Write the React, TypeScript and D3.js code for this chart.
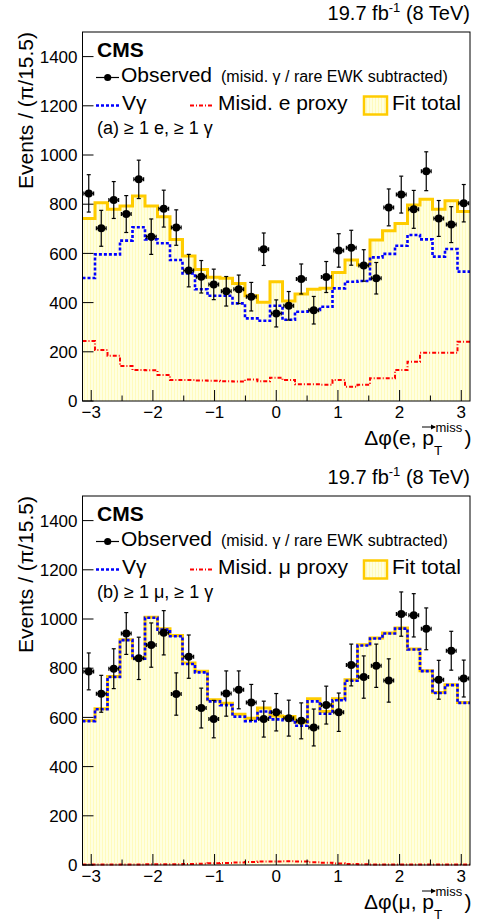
import React from 'react';
import * as d3 from 'd3';

const NBINS = 31;
const binWidth = Math.PI / 15.5;
const binEdges = d3.range(NBINS + 1).map((i) => -Math.PI + i * binWidth);
const binCenters = d3.range(NBINS).map((i) => -Math.PI + (i + 0.5) * binWidth);

const xTickValues = [-3, -2, -1, 0, 1, 2, 3];
const xMinorTickValues = [-2.5, -1.5, -0.5, 0.5, 1.5, 2.5];
const yTickValues = [0, 200, 400, 600, 800, 1000, 1200, 1400];

// (a) electron channel
const eObserved = [844, 702, 817, 760, 901, 668, 782, 705, 530, 505, 474, 446, 454, 424, 617, 356, 387, 496, 369, 504, 612, 623, 551, 499, 787, 839, 779, 934, 742, 717, 804];
const eObsErr = [76, 73, 75, 75, 78, 72, 75, 72, 66, 66, 62, 60, 58, 58, 66, 55, 58, 61, 56, 63, 68, 71, 64, 64, 75, 75, 77, 79, 73, 73, 76];
const eFitTotal = [742, 806, 779, 793, 833, 793, 749, 657, 589, 535, 503, 499, 478, 428, 401, 485, 406, 435, 454, 458, 522, 573, 553, 654, 692, 722, 797, 820, 779, 814, 770];
const eVgamma = [500, 596, 596, 652, 706, 657, 641, 573, 519, 454, 428, 428, 397, 336, 326, 387, 330, 363, 370, 383, 458, 485, 488, 584, 598, 631, 675, 657, 587, 618, 526];
const eMisid = [244, 207, 184, 142, 126, 125, 106, 85, 85, 83, 82, 80, 79, 87, 80, 95, 85, 68, 68, 66, 85, 58, 66, 92, 92, 126, 160, 196, 196, 196, 241];

// (b) muon channel
const mObserved = [787, 696, 798, 941, 840, 894, 944, 695, 847, 638, 593, 697, 712, 661, 593, 621, 597, 586, 559, 650, 621, 813, 764, 810, 750, 1020, 1015, 960, 753, 871, 758];
const mObsErr = [75, 75, 81, 85, 86, 90, 90, 86, 88, 81, 76, 92, 77, 73, 73, 76, 73, 73, 75, 77, 78, 85, 86, 88, 88, 90, 88, 85, 79, 79, 75];
const mFitTotal = [587, 635, 766, 916, 841, 1007, 960, 933, 821, 788, 672, 658, 613, 597, 638, 606, 604, 580, 676, 624, 676, 753, 895, 923, 943, 963, 878, 790, 701, 733, 661];
const mVgamma = [585, 633, 764, 914, 839, 1005, 957, 930, 817, 783, 665, 650, 603, 585, 624, 592, 589, 566, 665, 615, 670, 749, 892, 921, 941, 961, 876, 788, 699, 731, 659];
const mMisid = [2, 2, 2, 2, 2, 3, 3, 3, 4, 5, 7, 8, 10, 12, 14, 14, 15, 14, 11, 9, 6, 4, 3, 2, 2, 2, 2, 2, 2, 2, 2];

const FONT = "'Liberation Sans', Arial, Helvetica, sans-serif";
const YELLOW = '#ffcc00';

type PanelProps = {
  off: number;
  observed: number[];
  errs: number[];
  fit: number[];
  vg: number[];
  misid: number[];
  label: string;
  lepton: string;
};

function Panel({ off, observed, errs, fit, vg, misid, label, lepton }: PanelProps) {
  const left = 82.5;
  const right = 470;
  const top = 32 + off;
  const bottom = 401 + off;
  const x = d3.scaleLinear().domain([-Math.PI, Math.PI]).range([left, right]);
  const y = d3.scaleLinear().domain([0, 1500]).range([bottom, top]);

  const stepPts = (vals: number[]) =>
    binEdges.map((e, i) => [e, vals[Math.min(i, NBINS - 1)]] as [number, number]);
  const line = d3
    .line<[number, number]>()
    .x((d) => x(d[0]))
    .y((d) => y(d[1]))
    .curve(d3.curveStepAfter);
  const area = d3
    .area<[number, number]>()
    .x((d) => x(d[0]))
    .y0(y(0))
    .y1((d) => y(d[1]))
    .curve(d3.curveStepAfter);

  const hw = binWidth * 0.39;

  return (
    <g>
      <text x={right} y={20 + off} textAnchor="end" fontSize={20} fontFamily={FONT}>
        19.7 fb
        <tspan dy={-8} fontSize={13}>-1</tspan>
        <tspan dy={8}> (8 TeV)</tspan>
      </text>

      <path d={area(stepPts(fit)) || ''} fill="url(#fitfill)" stroke="none" />
      <path d={line(stepPts(fit)) || ''} fill="none" stroke={YELLOW} strokeWidth={3} />
      <path d={line(stepPts(misid)) || ''} fill="none" stroke="#ff0000" strokeWidth={2} strokeDasharray="4 2 1 2" />
      <path d={line(stepPts(vg)) || ''} fill="none" stroke="#0000ff" strokeWidth={2.6} strokeDasharray="3 2" />

      <rect x={left} y={top} width={right - left} height={bottom - top} fill="none" stroke="#000" strokeWidth={1} />

      {yTickValues.map((v) => (
        <g key={'y' + v}>
          <line x1={left} x2={left + 11} y1={y(v)} y2={y(v)} stroke="#000" strokeWidth={1} />
          <text x={left - 5} y={y(v)} dy="0.36em" textAnchor="end" fontSize={17} fontFamily={FONT}>
            {v}
          </text>
        </g>
      ))}
      {xTickValues.map((v) => (
        <g key={'x' + v}>
          <line x1={x(v)} x2={x(v)} y1={bottom} y2={bottom - 11} stroke="#000" strokeWidth={1} />
          <text x={x(v)} y={bottom + 17} textAnchor="middle" fontSize={17} fontFamily={FONT}>
            {v < 0 ? '\u2212' + Math.abs(v) : String(v)}
          </text>
        </g>
      ))}
      {xMinorTickValues.map((v) => (
        <line key={'xm' + v} x1={x(v)} x2={x(v)} y1={bottom} y2={bottom - 5.5} stroke="#000" strokeWidth={1} />
      ))}

      {observed.map((v, i) => {
        const c = binCenters[i];
        const e = errs[i];
        return (
          <g key={'d' + i} stroke="#000" strokeWidth={1.2}>
            <line x1={x(c)} x2={x(c)} y1={y(v - e)} y2={y(v + e)} />
            <line x1={x(c) - 2} x2={x(c) + 2} y1={y(v - e)} y2={y(v - e)} />
            <line x1={x(c) - 2} x2={x(c) + 2} y1={y(v + e)} y2={y(v + e)} />
            <line x1={x(c - hw)} x2={x(c + hw)} y1={y(v)} y2={y(v)} />
            <line x1={x(c - hw)} x2={x(c - hw)} y1={y(v) - 2} y2={y(v) + 2} />
            <line x1={x(c + hw)} x2={x(c + hw)} y1={y(v) - 2} y2={y(v) + 2} />
            <circle cx={x(c)} cy={y(v)} r={4} fill="#000" stroke="none" />
          </g>
        );
      })}

      {/* legend */}
      <text x={97} y={57 + off} fontSize={21} fontWeight="bold" fontFamily={FONT}>CMS</text>
      <line x1={96} x2={119} y1={77.5 + off} y2={77.5 + off} stroke="#000" strokeWidth={1.2} />
      <circle cx={107.7} cy={77.5 + off} r={3.6} fill="#000" />
      <text x={121} y={82 + off} fontSize={21} fontFamily={FONT}>Observed</text>
      <text x={221} y={81.5 + off} fontSize={16} fontFamily={FONT}>(misid. γ / rare EWK subtracted)</text>

      <line x1={96} x2={119} y1={105.5 + off} y2={105.5 + off} stroke="#0000ff" strokeWidth={2.6} strokeDasharray="3 2" />
      <text x={122} y={110 + off} fontSize={21} fontFamily={FONT}>Vγ</text>
      <line x1={190} x2={212} y1={105.5 + off} y2={105.5 + off} stroke="#ff0000" strokeWidth={2} strokeDasharray="4 2 1 2" />
      <text x={218} y={110 + off} fontSize={21} fontFamily={FONT}>{`Misid. ${lepton} proxy`}</text>
      <rect x={364} y={96.5 + off} width={23} height={18} fill="url(#fitfill)" stroke={YELLOW} strokeWidth={2.5} />
      <text x={392} y={110 + off} fontSize={21} fontFamily={FONT}>Fit total</text>

      <text x={97} y={134 + off} fontSize={18} fontFamily={FONT}>{label}</text>

      {/* y axis title */}
      <text
        transform={`translate(33, ${top}) rotate(-90)`}
        textAnchor="end"
        fontSize={21}
        fontFamily={FONT}
      >
        Events / (π/15.5)
      </text>

      {/* x axis title */}
      <text x={434} y={445 + off} textAnchor="end" fontSize={21} fontFamily={FONT}>
        {`Δφ(${lepton}, p`}
      </text>
      <text x={434} y={455 + off} fontSize={13.5} fontFamily={FONT}>T</text>
      <text x={435.5} y={432 + off} fontSize={13} fontFamily={FONT}>miss</text>
      <text x={464.5} y={445 + off} fontSize={21} fontFamily={FONT}>)</text>
      <line x1={422} x2={435} y1={427 + off} y2={427 + off} stroke="#000" strokeWidth={1} />
      <path d={`M${436},${427 + off} L${431},${424.5 + off} L${431},${429.5 + off} Z`} fill="#000" />
    </g>
  );
}

export default function App() {
  return (
    <svg
      width={480}
      height={922}
      viewBox="0 0 480 922"
      style={{ position: 'absolute', left: 0, top: 0, background: '#fff' }}
    >
      <defs>
        <pattern id="fitfill" width={3} height={3} patternUnits="userSpaceOnUse">
          <rect width={3} height={3} fill="#ffffe0" />
          <rect width={1} height={3} fill="#fffbbd" />
        </pattern>
      </defs>
      <rect width={480} height={922} fill="#fff" />
      <Panel
        off={0}
        observed={eObserved}
        errs={eObsErr}
        fit={eFitTotal}
        vg={eVgamma}
        misid={eMisid}
        label="(a) ≥ 1 e, ≥ 1 γ"
        lepton="e"
      />
      <Panel
        off={464}
        observed={mObserved}
        errs={mObsErr}
        fit={mFitTotal}
        vg={mVgamma}
        misid={mMisid}
        label="(b) ≥ 1 μ, ≥ 1 γ"
        lepton="μ"
      />
    </svg>
  );
}
